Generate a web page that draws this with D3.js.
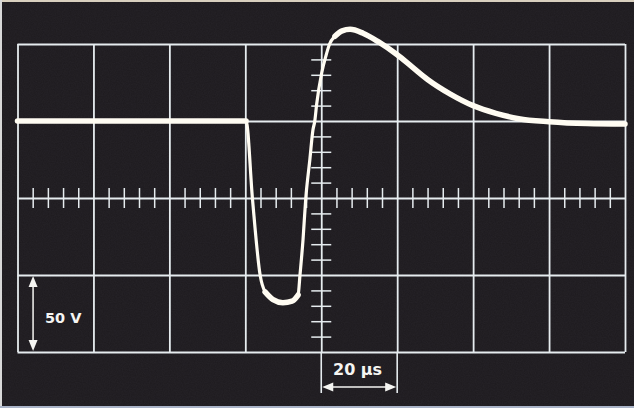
<!DOCTYPE html>
<html><head><meta charset="utf-8">
<script src="https://cdn.jsdelivr.net/npm/d3@7"></script>
<style>html,body{margin:0;padding:0;background:#211e22;}svg{display:block;}</style>
</head><body>
<script>
// Data: time in µs (20 µs/div), voltage in V (50 V/div)
const timeUs = [0, 60.2, 61.9, 63.9, 65.2, 67.3, 69.9, 72.3, 73.9, 74.4, 75.2, 75.9, 77.0, 77.8, 78.3, 78.8, 80.1, 81.2, 82.2, 83.6, 85.5, 87.6, 91.0, 95.0, 100.0, 104.0, 108.0, 114.0, 120.0, 126.0, 132.0, 140.0, 150.0, 160.0];
const voltsV = [50, 50, -1, -50, -61, -66, -68, -67, -63, -50, -27, -1, 25, 44, 50, 61, 81, 92, 100, 105, 108.5, 109.5, 107, 101.5, 93, 85, 77, 67.5, 60, 55, 51.5, 49.5, 48.3, 48];
const xMajorTicks = [0, 20, 40, 60, 80, 100, 120, 140, 160];
const yMajorTicks = [-100, -50, 0, 50, 100];
const xMinorTicks = d3.range(0, 161, 4).filter(v => v % 20 !== 0);
const yMinorTicks = d3.range(-100, 101, 10).filter(v => v % 50 !== 0);
const voltLabel = "50 V";
const timeLabel = "20 µs";

const W = 634, H = 408;
const svg = d3.select("body").append("svg").attr("width", W).attr("height", H);
const defs = svg.append("defs");
const f = defs.append("filter").attr("id", "noise").attr("x", 0).attr("y", 0).attr("width", "100%").attr("height", "100%")
  .attr("color-interpolation-filters", "sRGB");
f.append("feTurbulence").attr("type", "fractalNoise").attr("baseFrequency", 0.85).attr("numOctaves", 2).attr("seed", 3).attr("result", "n");
f.append("feColorMatrix").attr("in", "n").attr("type", "matrix")
  .attr("values", "0 0 0 0 0.22  0 0 0 0 0.21  0 0 0 0 0.24  0 0 0 0.35 -0.08");
svg.append("rect").attr("width", W).attr("height", H).attr("fill", "#1f1c20");
svg.append("rect").attr("width", W).attr("height", H).attr("filter", "url(#noise)");
// photo edges
svg.append("rect").attr("x", 0).attr("y", 0).attr("width", W).attr("height", 2).attr("fill", "#d9d0bf");
svg.append("rect").attr("x", 0).attr("y", 0).attr("width", 2).attr("height", H).attr("fill", "#d8d8d8");
svg.append("rect").attr("x", 0).attr("y", H - 2).attr("width", W).attr("height", 2).attr("fill", "#aab4c8");

const x = d3.scaleLinear().domain([0, 160]).range([17.5, 625]);
const y = d3.scaleLinear().domain([-100, 100]).range([352, 44]);
const gridColor = "#e6ecef";

// major grid via axes
const gx = svg.append("g").attr("transform", `translate(0,${y(-100)})`)
  .call(d3.axisBottom(x).tickValues(xMajorTicks).tickSize(-(y(-100) - y(100))).tickFormat(""));
const gy = svg.append("g").attr("transform", `translate(${x(0)},0)`)
  .call(d3.axisLeft(y).tickValues(yMajorTicks).tickSize(-(x(160) - x(0))).tickFormat(""));
[gx, gy].forEach(g => {
  g.select(".domain").remove();
  g.selectAll("line").attr("stroke", gridColor).attr("stroke-width", 1.8);
});

// minor ticks on centre lines
const mx = svg.append("g").attr("transform", `translate(0,${y(0) + 10})`)
  .call(d3.axisBottom(x).tickValues(xMinorTicks).tickSize(-20).tickFormat(""));
const my = svg.append("g").attr("transform", `translate(${x(80) - 10},0)`)
  .call(d3.axisLeft(y).tickValues(yMinorTicks).tickSize(-20).tickFormat(""));
[mx, my].forEach(g => {
  g.select(".domain").remove();
  g.selectAll("line").attr("stroke", gridColor).attr("stroke-width", 1.5);
});

// trace
const pts = timeUs.map((t, i) => [t, voltsV[i]]);
const line = d3.line().x(d => x(d[0])).y(d => y(d[1])).curve(d3.curveMonotoneX);
svg.append("path").datum(pts).attr("d", line)
  .attr("fill", "none").attr("stroke", "#fffcf2").attr("stroke-width", 3.2)
  .attr("stroke-linejoin", "round").attr("stroke-linecap", "round");
// brighter/thicker where the beam moves slowly
const slow = [[0, 60.2], [64.5, 74.0], [83.0, 160]];
slow.forEach(([a, b]) => {
  const sub = pts.filter(d => d[0] >= a && d[0] <= b);
  svg.append("path").datum(sub).attr("d", line)
    .attr("fill", "none").attr("stroke", "#fffcf2").attr("stroke-width", 5.5)
    .attr("stroke-linecap", "round");
});

const textColor = "#f5f5f2";
function arrowHead(px, py, dir) {
  const L = 11, Wd = 4.5;
  let p;
  if (dir === "up") p = [[px, py], [px - Wd, py + L], [px + Wd, py + L]];
  if (dir === "down") p = [[px, py], [px - Wd, py - L], [px + Wd, py - L]];
  if (dir === "left") p = [[px, py], [px + L, py - Wd], [px + L, py + Wd]];
  if (dir === "right") p = [[px, py], [px - L, py - Wd], [px - L, py + Wd]];
  svg.append("path").attr("d", "M" + p.map(q => q.join(",")).join("L") + "Z").attr("fill", textColor);
}
// vertical scale marker (50 V)
const vx = x(4.1);
svg.append("line").attr("x1", vx).attr("x2", vx).attr("y1", y(-50) + 4).attr("y2", y(-100) - 4)
  .attr("stroke", textColor).attr("stroke-width", 1.5);
arrowHead(vx, y(-50) + 1, "up");
arrowHead(vx, y(-100) - 1, "down");
svg.append("text").attr("x", 45).attr("y", 323).text(voltLabel)
  .attr("fill", textColor).attr("font-family", "DejaVu Sans").attr("font-weight", "bold").attr("font-size", 14.5);

// horizontal scale marker (20 µs)
const hy = 387;
[80, 100].forEach(t => {
  svg.append("line").attr("x1", x(t)).attr("x2", x(t)).attr("y1", y(-100)).attr("y2", 393)
    .attr("stroke", gridColor).attr("stroke-width", 1.6);
});
svg.append("line").attr("x1", x(80) + 4).attr("x2", x(100) - 4).attr("y1", hy).attr("y2", hy)
  .attr("stroke", textColor).attr("stroke-width", 1.5);
arrowHead(x(80) + 1, hy, "left");
arrowHead(x(100) - 1, hy, "right");
svg.append("text").attr("x", 333).attr("y", 375).text(timeLabel)
  .attr("fill", textColor).attr("font-family", "DejaVu Sans").attr("font-weight", "bold").attr("font-size", 16);
</script>
</body></html>
